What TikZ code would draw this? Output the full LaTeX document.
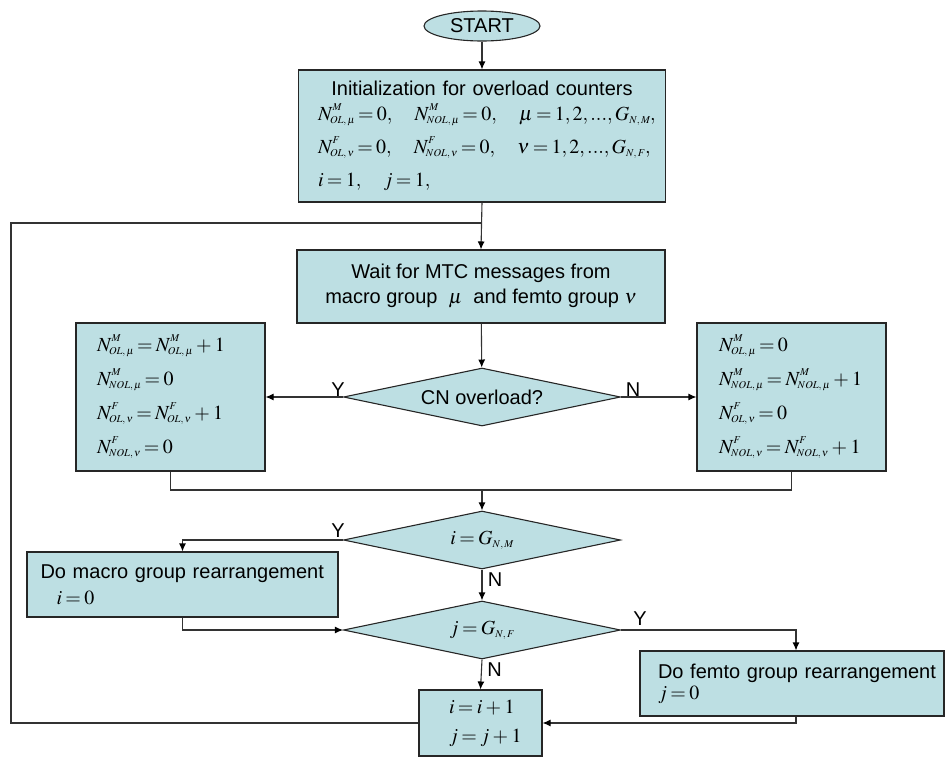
\documentclass[tikz,border=0pt]{standalone}
\usepackage{amsmath}
\usepackage{mathptmx}
\usepackage[no-math]{fontspec}
\setmainfont{Liberation Sans}
\usetikzlibrary{arrows.meta,shapes.geometric}

\definecolor{boxblue}{RGB}{189,223,227}
\thickmuskip=3mu plus 2mu
\medmuskip=3mu plus 1mu

% small raised/lowered indices, equation-editor style
\newcommand{\sbx}[1]{\raisebox{-3pt}{\fontsize{10.5}{10.5}\selectfont$#1$}}
\newcommand{\spx}[1]{\raisebox{10pt}{\fontsize{10.5}{10.5}\selectfont$#1$}}
\newcommand{\cnt}[2]{N\rlap{\spx{#1}}\kern-2.5pt\sbx{#2}}

\begin{document}
\begin{tikzpicture}[x=1pt,y=-1pt,line width=1.1pt,
    every node/.style={font=\fontsize{20}{24}\selectfont},
    block/.style={draw=black!85,fill=boxblue,inner sep=0pt},
    decide/.style={diamond,draw=black!85,fill=boxblue,inner sep=0pt,aspect=4.78,
        minimum width=277pt,minimum height=58pt},
    flow/.style={draw=black!80,-{Latex[length=8pt,width=7pt,color=black]}},
    link/.style={draw=black!80},
    yn/.style={inner sep=0pt}]

\useasboundingbox (0,0) rectangle (945,758);

\coordinate (join) at (482,223);
\coordinate (corner) at (11,223);
\coordinate (merge) at (482,490);

% start and initialisation
\node[ellipse,draw=black!85,fill=boxblue,minimum width=116pt,minimum height=30pt,inner sep=0pt]
    (start) at (482,26) {START};

\node[block,minimum width=367pt,minimum height=132pt,text width=328pt,align=left,
    font=\fontsize{20}{33}\selectfont] (init) at (482,136)
    {\makebox[\linewidth]{Initialization for overload counters}\\[-8pt]
     \mbox{$\cnt{M}{OL,\mu}=0,\quad \cnt{M}{NOL,\mu}=0,\quad \mu=1,2,...,G\sbx{N,M},$}\\
     \mbox{$\cnt{F}{OL,\nu}=0,\quad \cnt{F}{NOL,\nu}=0,\quad \nu=1,2,...,G\sbx{N,F},$}\\
     \mbox{$i=1,\quad j=1,$}};

\node[block,minimum width=368pt,minimum height=73pt,align=center,
    font=\fontsize{20}{25}\selectfont] (wait) at (481,286.5)
    {Wait for MTC messages from\\ macro group\ \ $\mu$\ \ and femto group $\nu$};

% overload test and counter updates
\node[decide] (cn) at (482,397) {CN overload?};

\node[block,minimum width=189pt,minimum height=148pt,text width=147pt,align=left,
    font=\fontsize{20}{34}\selectfont] (olyes) at (170.5,397)
    {\mbox{$\cnt{M}{OL,\mu}=\cnt{M}{OL,\mu}+1$}\\
     \mbox{$\cnt{M}{NOL,\mu}=0$}\\
     \mbox{$\cnt{F}{OL,\nu}=\cnt{F}{OL,\nu}+1$}\\
     \mbox{$\cnt{F}{NOL,\nu}=0$}};

\node[block,minimum width=189pt,minimum height=148pt,text width=145pt,align=left,
    font=\fontsize{20}{34}\selectfont] (olno) at (791.5,397)
    {\mbox{$\cnt{M}{OL,\mu}=0$}\\
     \mbox{$\cnt{M}{NOL,\mu}=\cnt{M}{NOL,\mu}+1$}\\
     \mbox{$\cnt{F}{OL,\nu}=0$}\\
     \mbox{$\cnt{F}{NOL,\nu}=\cnt{F}{NOL,\nu}+1$}};

% group rearrangement
\node[decide] (dmacro) at (482,540) {$i=G\sbx{N,M}$};
\node[decide] (dfemto) at (482,630) {$j=G\sbx{N,F}$};

\node[block,minimum width=311pt,minimum height=65pt,text width=284pt,align=left]
    (macro) at (182.5,584.5)
    {\mbox{Do macro group rearrangement}\\[2pt]
     \hspace*{16pt}$i=0$};

\node[block,minimum width=304pt,minimum height=65pt,text width=268pt,align=left]
    (femto) at (792,683.5)
    {\mbox{Do femto group rearrangement}\\[-3pt]
     $j=0$};

\node[block,minimum width=123pt,minimum height=66pt,text width=63pt,align=left]
    (incr) at (480.5,723)
    {\mbox{$i=i+1$}\\[5pt]
     \mbox{$j=j+1$}};

% Y/N labels
\node[yn] (cnY) at (338,390) {Y};
\node[yn] (cnN) at (633,390) {N};
\node[yn] (dmY) at (338,531) {Y};
\node[yn] (dmN) at (495,580) {N};
\node[yn] (dfY) at (640,619) {Y};
\node[yn] (dfN) at (494.5,669.5) {N};

% connectors
\draw[flow] (start) -- (init);
\draw[flow] (init.south) -- (wait.north);
\draw[flow] (wait) -- (cn);
\draw[flow] (cn.west) -- (olyes.east);
\draw[flow] (cn.east) -- (olno.west);
\draw[link] (olyes.south) |- (merge) -| (olno.south);
\draw[flow] (merge) -- (dmacro.north);
\draw[flow] (dmacro.west) -| (macro.north);
\draw[flow] (dmacro.south) -- (dfemto.north);
\draw[flow] (macro.south) |- (dfemto.west);
\draw[flow] (dfemto.east) -| ([xshift=4pt]femto.north);
\draw[flow] (dfemto.south) -- (incr.north);
\draw[flow] ([xshift=4pt]femto.south) |- (incr.east);
\draw[link] (incr.west) -| (corner) -- (join);

\end{tikzpicture}
\end{document}
